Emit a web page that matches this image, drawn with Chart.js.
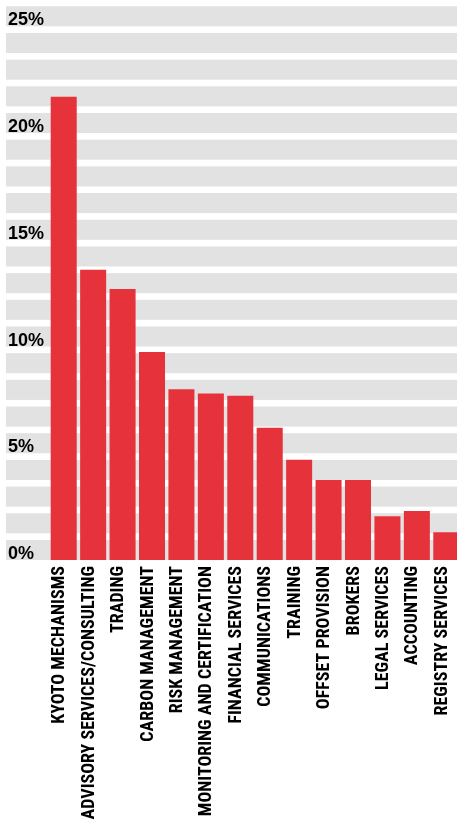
<!DOCTYPE html>
<html>
<head>
<meta charset="utf-8">
<script src="https://cdn.jsdelivr.net/npm/chart.js@4/dist/chart.umd.min.js"></script>
<style>
  html, body { margin: 0; padding: 0; background: #fff; overflow: hidden; }
  #wrap { width: 461px; height: 825px; position: relative; }
</style>
</head>
<body>
<div id="wrap"><canvas id="barChart"></canvas></div>
<script>
// data
const categories = [
  "KYOTO MECHANISMS", "ADVISORY SERVICES/CONSULTING", "TRADING", "CARBON MANAGEMENT",
  "RISK MANAGEMENT", "MONITORING AND CERTIFICATION", "FINANCIAL SERVICES", "COMMUNICATIONS",
  "TRAINING", "OFFSET PROVISION", "BROKERS", "LEGAL SERVICES", "ACCOUNTING", "REGISTRY SERVICES"
];
const shares = [21.7, 13.6, 12.7, 9.75, 8.0, 7.8, 7.7, 6.2, 4.7, 3.75, 3.75, 2.05, 2.3, 1.3];
const tickLabels = [0, 5, 10, 15, 20, 25];
const bandSteps = [0, 1.25, 2.5, 3.75, 5, 6.25, 7.5, 8.75, 10, 11.25, 12.5, 13.75, 15,
  16.25, 17.5, 18.75, 20, 21.25, 22.5, 23.75, 25];

const ctx = document.getElementById('barChart');

// grey bands behind the bars, plus the % labels sitting inside them
const bands = {
  id: 'bands',
  beforeDatasetsDraw(chart) {
    const c = chart.ctx;
    const y = chart.scales.y;
    c.save();
    c.fillStyle = '#e1e2e1';
    bandSteps.forEach(v => {
      const top = y.getPixelForValue(v + 0.94);
      const bot = y.getPixelForValue(v);
      c.fillRect(6, top, chart.width - 6, bot - top);
    });
    c.fillStyle = '#000';
    c.font = 'bold 18px "Liberation Sans", Arial, sans-serif';
    c.textBaseline = 'alphabetic';
    c.textAlign = 'left';
    tickLabels.forEach(v => {
      c.fillText(v + '%', 8, y.getPixelForValue(v) - 1);
    });
    c.restore();
  }
};

new Chart(ctx, {
  type: 'bar',
  data: {
    labels: categories,
    datasets: [{
      data: shares,
      backgroundColor: '#e5323b',
      barPercentage: 0.884,
      categoryPercentage: 1.0
    }]
  },
  options: {
    responsive: true,
    maintainAspectRatio: false,
    animation: false,
    layout: { padding: { top: 5, left: 49, right: 0, bottom: 0 } },
    plugins: { legend: { display: false }, tooltip: { enabled: false } },
    scales: {
      x: {
        grid: { display: false, drawTicks: false },
        border: { display: false },
        afterFit: (scale) => {
          scale.height = 265;
          scale.paddingLeft = 0;
          scale.paddingRight = 0;
        },
        ticks: {
          autoSkip: false,
          minRotation: 90,
          maxRotation: 90,
          padding: 6,
          labelOffset: -4,
          color: '#000',
          font: { family: '"Roboto Condensed", "DejaVu Sans Condensed", sans-serif', weight: 'bold', size: 18 }
        }
      },
      y: {
        display: false,
        min: 0,
        max: 26
      }
    }
  },
  plugins: [bands]
});
</script>
</body>
</html>
